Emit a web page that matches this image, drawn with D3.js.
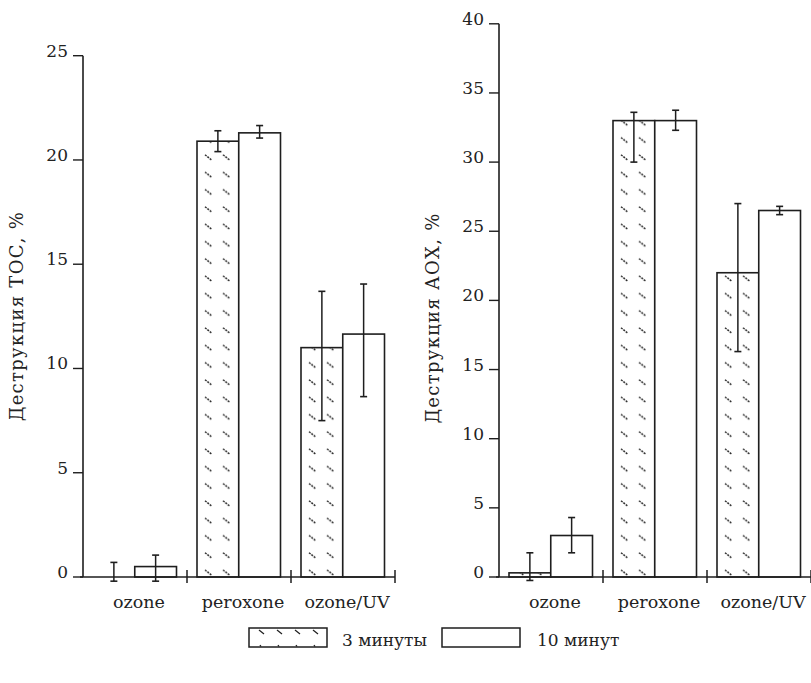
<!DOCTYPE html>
<html>
<head>
<meta charset="utf-8">
<script src="https://cdn.jsdelivr.net/npm/d3@7"></script>
<style>
body{margin:0;background:#fff}
text{font-family:"DejaVu Serif","Liberation Serif",serif;fill:#222}
</style>
</head>
<body>
<div id="chart"></div>
<script>
var categories = ["ozone","peroxone","ozone/UV"]
var series = ["3 минуты","10 минут"]

// TOC
var toc3 = [0, 20.9, 11.0]
var toc3Lo = [-0.2, 20.4, 7.5]
var toc3Hi = [0.7, 21.4, 13.7]
var toc10 = [0.5, 21.3, 11.65]
var toc10Lo = [-0.2, 21.05, 8.65]
var toc10Hi = [1.05, 21.65, 14.05]
var tocTicks = [0,5,10,15,20,25]

// AOX
var aox3 = [0.3, 33.0, 22.0]
var aox3Lo = [-0.25, 30.0, 16.3]
var aox3Hi = [1.75, 33.6, 27.0]
var aox10 = [3.0, 33.0, 26.5]
var aox10Lo = [1.75, 32.3, 26.2]
var aox10Hi = [4.3, 33.75, 26.8]
var aoxTicks = [0,5,10,15,20,25,30,35,40]

var W = 811, H = 683
var svg = d3.select("#chart").append("svg").attr("width",W).attr("height",H)
var defs = svg.append("defs")
var ink = "#1e1e1e"
var baseY = 577

function rowsFor(v,lo,hi){
    return categories.map(function(c,i){ return {cat:c,v:v[i],lo:lo[i],hi:hi[i]} })
}

function drawChart(id,left,yMax,yTop,ticks,label,labelY,s3,s10){
    var x = d3.scaleBand().domain(categories).range([left,left+312])
    var x1 = d3.scaleBand().domain(series).range([10,93.5])
    var y = d3.scaleLinear().domain([0,yMax]).range([baseY,yTop])
    var g = svg.append("g")
    var data = [rowsFor(s3[0],s3[1],s3[2]), rowsFor(s10[0],s10[1],s10[2])]

    data.forEach(function(rows,si){
        rows.forEach(function(d,i){
            var bx = x(d.cat)+x1(series[si])
            var bw = x1.bandwidth()
            var fill = "#fff"
            if(si==0){
                var pid = id+"_h"+i
                var ph = 17.3
                var p = defs.append("pattern").attr("id",pid)
                    .attr("patternUnits","userSpaceOnUse")
                    .attr("x",bx).attr("y",baseY).attr("width",bw).attr("height",ph)
                p.append("rect").attr("width",bw).attr("height",ph).attr("fill","#fff")
                ;[8,26].forEach(function(ox){
                    p.append("line").attr("x1",ox).attr("y1",ph-7).attr("x2",ox+7).attr("y2",ph-1.5)
                        .attr("stroke",ink).attr("stroke-width",1.4).attr("stroke-dasharray","2,1")
                })
                fill = "url(#"+pid+")"
            }
            g.append("rect").attr("x",bx).attr("y",y(d.v)).attr("width",bw)
                .attr("height",baseY-y(d.v)).attr("fill",fill)
                .attr("stroke",ink).attr("stroke-width",1.6)
            var cx = bx+bw/2
            g.append("line").attr("x1",cx).attr("x2",cx).attr("y1",y(d.hi)).attr("y2",y(d.lo))
                .attr("stroke",ink).attr("stroke-width",1.5)
            ;[d.hi,d.lo].forEach(function(e){
                g.append("line").attr("x1",cx-3.5).attr("x2",cx+3.5).attr("y1",y(e)).attr("y2",y(e))
                    .attr("stroke",ink).attr("stroke-width",1.6)
            })
        })
    })

    // y axis
    g.append("line").attr("x1",left).attr("x2",left).attr("y1",baseY).attr("y2",y(yMax))
        .attr("stroke",ink).attr("stroke-width",1.6)
    ticks.forEach(function(t){
        g.append("line").attr("x1",left-10).attr("x2",left).attr("y1",y(t)).attr("y2",y(t))
            .attr("stroke",ink).attr("stroke-width",1.4)
        g.append("text").attr("x",left-15).attr("y",y(t)+1).attr("text-anchor","end")
            .style("font-size","17px").text(t)
    })
    // x axis
    g.append("line").attr("x1",left-3).attr("x2",left+312).attr("y1",baseY).attr("y2",baseY)
        .attr("stroke",ink).attr("stroke-width",1.6)
    categories.forEach(function(c){
        var tx = x(c)+x.bandwidth()
        g.append("line").attr("x1",tx).attr("x2",tx).attr("y1",baseY-7).attr("y2",baseY+6)
            .attr("stroke",ink).attr("stroke-width",1.5)
        g.append("text").attr("x",x(c)+x.bandwidth()/2+4).attr("y",baseY+31)
            .attr("text-anchor","middle").style("font-size","17.5px").text(c)
    })
    g.append("text").attr("transform","translate("+(left-60)+","+labelY+") rotate(-90)")
        .attr("text-anchor","middle").style("font-size","18px").style("letter-spacing","1.3px")
        .text(label)
}

drawChart("toc",83,25,55.7,tocTicks,"Деструкция ТОС, %",316,[toc3,toc3Lo,toc3Hi],[toc10,toc10Lo,toc10Hi])
drawChart("aox",499,40,23.8,aoxTicks,"Деструкция АОХ, %",318,[aox3,aox3Lo,aox3Hi],[aox10,aox10Lo,aox10Hi])

// legend
var lg = svg.append("g")
var legX = [249,442], legText = [342,537]
var legY = 628
series.forEach(function(s,i){
    lg.append("rect").attr("x",legX[i]).attr("y",legY).attr("width",78).attr("height",19)
        .attr("fill","#fff").attr("stroke",ink).attr("stroke-width",1.5)
    if(i==0){
        [12,30,48,66].forEach(function(o){
            lg.append("line").attr("x1",legX[i]+o-2).attr("y1",legY+2).attr("x2",legX[i]+o+3).attr("y2",legY+6)
                .attr("stroke",ink).attr("stroke-width",1.3)
            lg.append("line").attr("x1",legX[i]+o-1).attr("y1",legY+17).attr("x2",legX[i]+o).attr("y2",legY+18.5)
                .attr("stroke",ink).attr("stroke-width",1.3)
        })
    }
    lg.append("text").attr("x",legText[i]).attr("y",legY+18).style("font-size","17px").text(s)
})
</script>
</body>
</html>
